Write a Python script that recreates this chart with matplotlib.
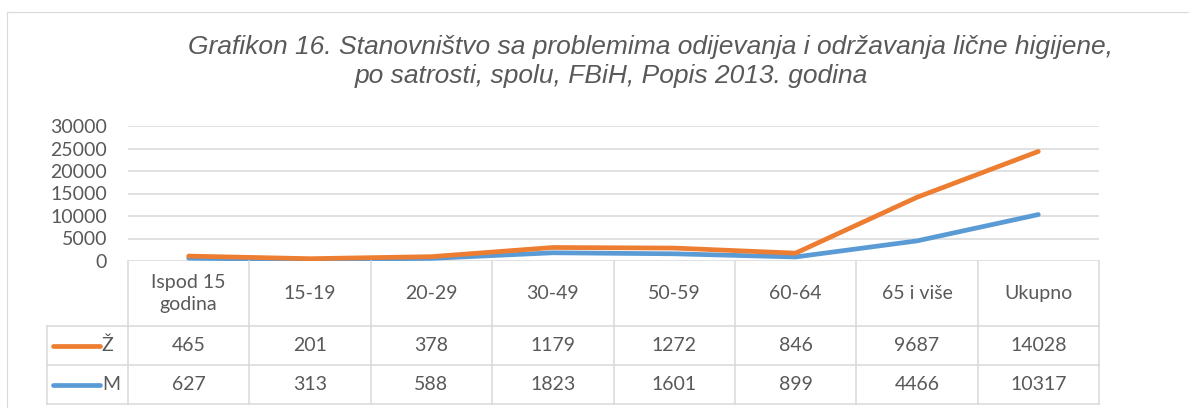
import numpy as np
import matplotlib
matplotlib.use("Agg")
import matplotlib.pyplot as plt
from matplotlib.patches import Rectangle

# data (stacked line chart: M at bottom, Z stacked on top)
categories = ["Ispod 15\ngodina", "15-19", "20-29", "30-49", "50-59", "60-64", "65 i više", "Ukupno"]
zene = [465, 201, 378, 1179, 1272, 846, 9687, 14028]
muski = [627, 313, 588, 1823, 1601, 899, 4466, 10317]
yticks = [0, 5000, 10000, 15000, 20000, 25000, 30000]

ORANGE = "#ED7D31"
BLUE = "#5B9BD5"
GRID = "#D9D9D9"
TXT = "#595959"
W, H = 1189, 408

plt.rcParams["font.family"] = ["Lato", "DejaVu Sans"]

fig = plt.figure(figsize=(W / 100, H / 100), dpi=100)

# outer chart border
fig.patches.append(Rectangle((7 / W, -0.1), 1.2, 1.1 - 12 / H, transform=fig.transFigure,
                             fill=False, edgecolor=GRID, lw=0.8))

# title
tfont = dict(family="Liberation Sans", style="italic", size=19, color=TXT)
fig.text(651 / W, 1 - 54 / H, "Grafikon 16. Stanovništvo sa problemima odijevanja i održavanja lične higijene,",
         ha="center", va="baseline", **tfont)
fig.text(611 / W, 1 - 83 / H, "po satrosti, spolu, FBiH, Popis 2013. godina",
         ha="center", va="baseline", **tfont)

# plot area
x0, x1, ytop, ybot = 128, 1099, 126, 261
ax = fig.add_axes([x0 / W, 1 - ybot / H, (x1 - x0) / W, (ybot - ytop) / H])
x = np.arange(len(categories))
m = np.array(muski)
stack = m + np.array(zene)
ax.plot(x, m, color=BLUE, lw=3.4, solid_capstyle="round", solid_joinstyle="round", zorder=3)
ax.plot(x, stack, color=ORANGE, lw=3.4, solid_capstyle="round", solid_joinstyle="round", zorder=4)
ax.set_xlim(-0.5, len(categories) - 0.5)
ax.set_ylim(0, 30000)
ax.set_yticks(yticks)
ax.set_xticks([])
ax.grid(axis="y", color=GRID, lw=1.1)
ax.set_axisbelow(True)
for s in ax.spines.values():
    s.set_visible(False)
ax.tick_params(axis="y", length=0, pad=15, labelsize=14, labelcolor=TXT)

# data table below
colw = (x1 - x0) / len(categories)
tbot = 404
tax = fig.add_axes([x0 / W, 1 - tbot / H, (x1 - x0) / W, (tbot - ybot) / H])
tax.set_xlim(-0.5, len(categories) - 0.5)
tax.set_ylim(tbot - ybot, 0)
tax.axis("off")


def px(v):
    return (v - x0) / colw - 0.5


rows = [0, 65, 104, 143]
lab_left = px(47)
lk = dict(color=GRID, lw=1.1, clip_on=False)
for yb in rows[1:]:
    tax.plot([lab_left, len(categories) - 0.5], [yb, yb], **lk)
for i in range(len(categories) + 1):
    tax.plot([i - 0.5, i - 0.5], [rows[0], rows[-1]], **lk)
tax.plot([lab_left, lab_left], [rows[1], rows[-1]], **lk)

cfont = dict(size=14, color=TXT, ha="center", va="center")
for i, c in enumerate(categories):
    tax.text(i, (rows[0] + rows[1]) / 2, c, linespacing=1.4, **cfont)
    tax.text(i, (rows[1] + rows[2]) / 2, str(zene[i]), **cfont)
    tax.text(i, (rows[2] + rows[3]) / 2, str(muski[i]), **cfont)

for (label, col, r) in [("Ž", ORANGE, 1), ("M", BLUE, 2)]:
    yc = (rows[r] + rows[r + 1]) / 2
    tax.plot([px(53), px(100)], [yc, yc], color=col, lw=3.4, solid_capstyle="round", clip_on=False)
    tax.text(px(102), yc, label, size=14, color=TXT, ha="left", va="center")

fig.savefig("out.png", dpi=100)
